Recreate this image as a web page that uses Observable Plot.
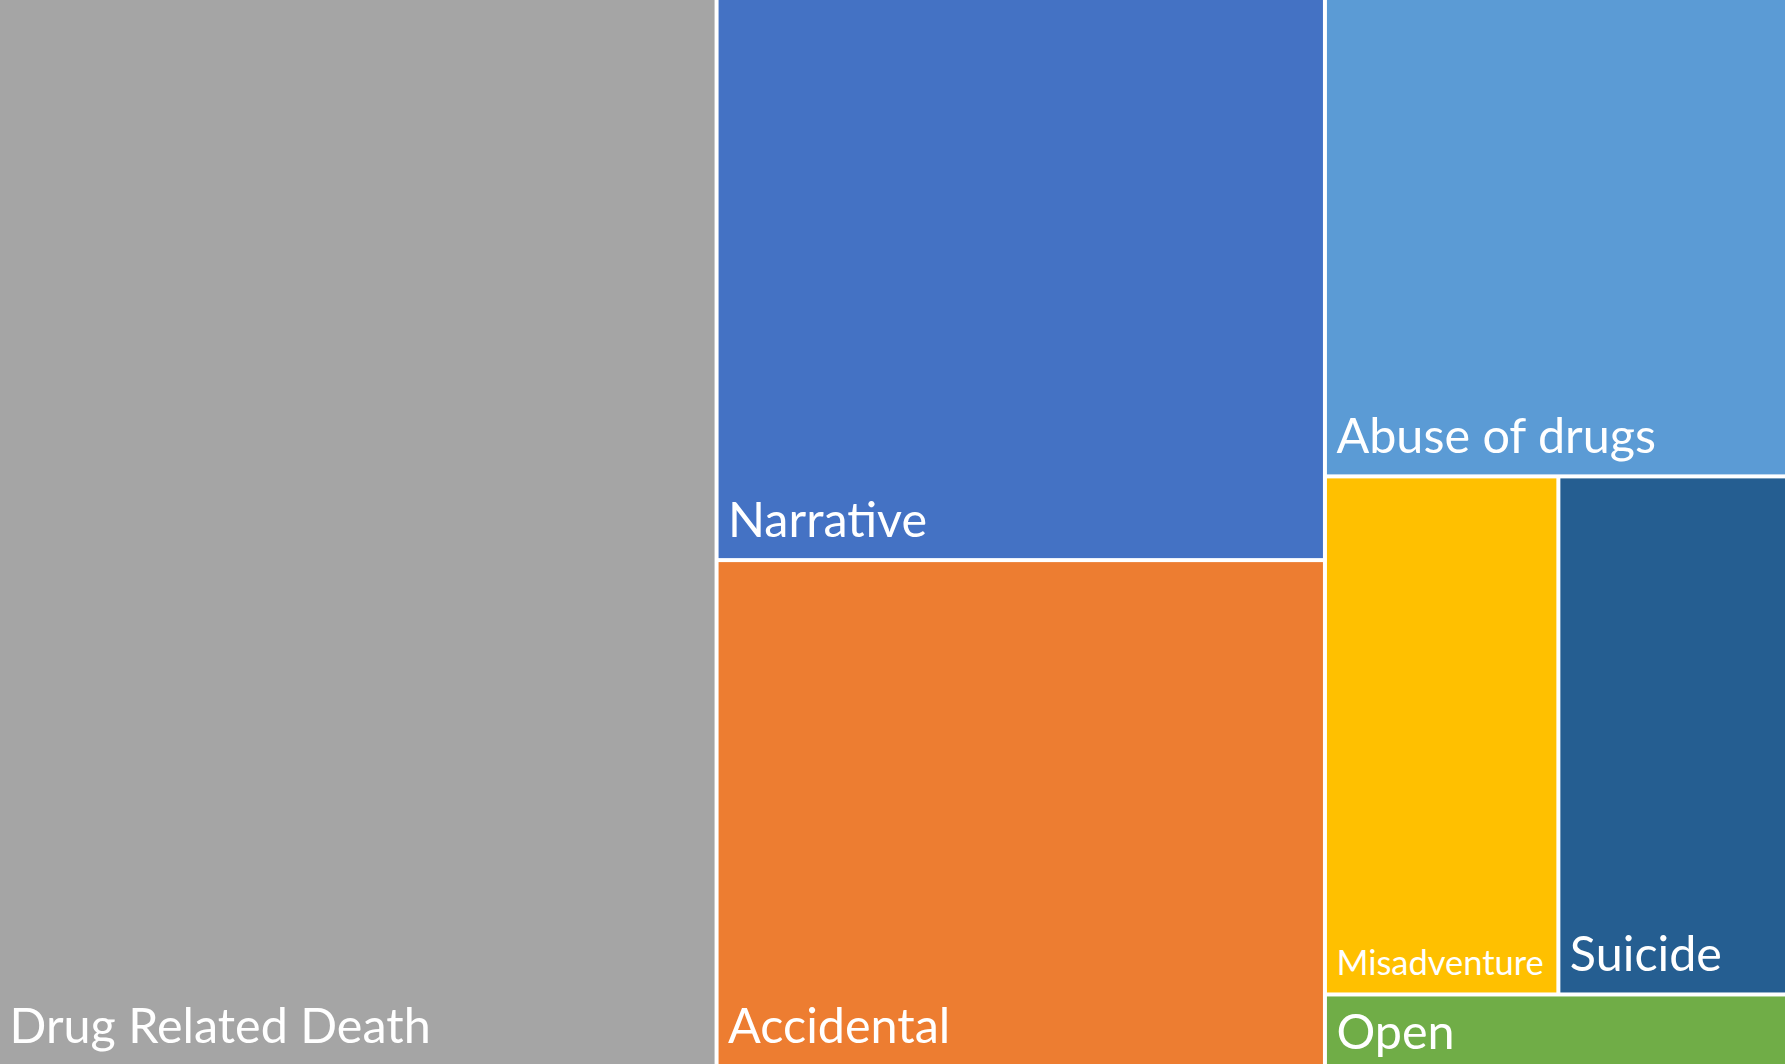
<!DOCTYPE html>
<html><head><meta charset="utf-8">
<script src="https://cdn.jsdelivr.net/npm/d3@7"></script>
<script src="https://cdn.jsdelivr.net/npm/@observablehq/plot@0.6"></script>
<style>html,body{margin:0;padding:0;background:#fff;overflow:hidden} svg{display:block}</style>
</head><body><div id="chart"></div>
<script>
// Data
const categories = ["Drug Related Death", "Narrative", "Accidental", "Abuse of drugs", "Misadventure", "Suicide", "Open"];
const values = [40.17, 17.90, 16.11, 11.57, 6.33, 6.20, 1.73];
const colors = ["#A5A5A5", "#4472C4", "#ED7D31", "#5B9BD5", "#FFC000", "#255E91", "#70AD47"];
// nesting used by the treemap (group path of each category)
const groupPath = ["", "g2", "g2", "g3", "g3/g4", "g3/g4", "g3"];

const W = 1785, H = 1064;

const rows = categories.map((name, i) => ({name, value: values[i], color: colors[i], group: groupPath[i]}));
const tree = {name: "root", children: []};
rows.forEach(r => {
  let node = tree;
  if (r.group) for (const g of r.group.split("/")) {
    let c = node.children.find(n => n.name === g && n.children);
    if (!c) { c = {name: g, children: []}; node.children.push(c); }
    node = c;
  }
  node.children.push(r);
});
const root = d3.hierarchy(tree).sum(d => d.children ? 0 : d.value);
d3.treemap().tile(d3.treemapSliceDice).size([W, H]).paddingInner(4)(root);
const leaves = root.leaves();

const ctx = document.createElement("canvas").getContext("2d");
const baseFont = 48.5;
leaves.forEach(d => {
  let fs = baseFont;
  ctx.font = `${fs}px Lato`;
  const w = ctx.measureText(d.data.name).width;
  const avail = d.x1 - d.x0 - 22;
  if (w > avail) fs = fs * avail / w;
  d.fs = fs;
  d.labelY = Math.max(d.y1 - 9 - 0.26 * fs, d.y0 + 1.08 * fs);
});

const chart = Plot.plot({
  width: W, height: H, margin: 0,
  x: {domain: [0, W], range: [0, W], axis: null},
  y: {domain: [0, H], range: [0, H], axis: null},
  color: {type: "identity"},
  style: {background: "#fff"},
  marks: [
    Plot.rect(leaves, {x1: d => d.x0, x2: d => d.x1, y1: d => d.y0, y2: d => d.y1, fill: d => d.data.color}),
    Plot.text(leaves, {x: d => d.x0, y: d => d.labelY, text: d => d.data.name, textAnchor: "start", lineAnchor: "bottom", dx: 9, fill: "white", fontSize: d => d.fs, fontFamily: "Lato"})
  ]
});
document.getElementById("chart").appendChild(chart);
</script>
</body></html>
